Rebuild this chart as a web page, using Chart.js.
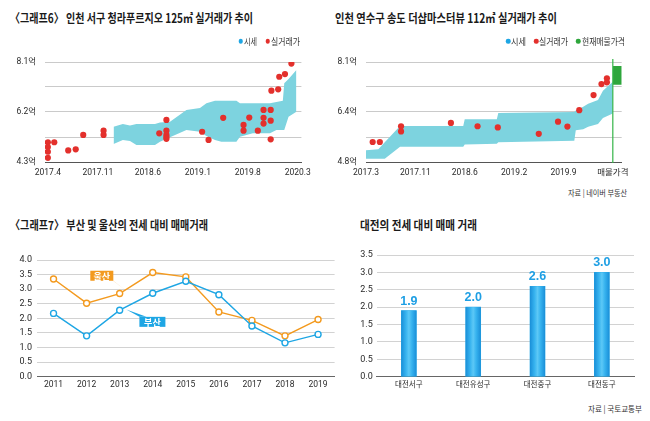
<!DOCTYPE html>
<html><head><meta charset="utf-8">
<script src="https://cdn.jsdelivr.net/npm/chart.js@4.4.1/dist/chart.umd.min.js"></script>
<style>
html,body{margin:0;padding:0;background:#fff;width:650px;height:421px;overflow:hidden;position:relative;font-family:"Noto Sans CJK KR",sans-serif;}
canvas{position:absolute;}
.t{position:absolute;white-space:nowrap;line-height:1;transform-origin:0 50%;color:#1a1a1a;}
.dot{position:absolute;border-radius:50%;width:4.5px;height:4.5px;transform:translate(-50%,-50%);}
</style></head><body>
<canvas id="c1" width="325" height="140" style="left:0;top:45px"></canvas>
<canvas id="c2" width="325" height="140" style="left:325px;top:45px"></canvas>
<canvas id="c3" width="340" height="160" style="left:0;top:240px"></canvas>
<canvas id="c4" width="310" height="160" style="left:340px;top:240px"></canvas>
<script>
// ---------- DATA ----------
// Chart 1: 인천 서구 청라푸르지오 125㎡ (x = months since 2017.4)
const x1Ticks = [0, 7, 14, 21, 28, 35];
const x1Labels = ['2017.4', '2017.11', '2018.6', '2019.1', '2019.8', '2020.3'];
const y1Ticks = [4.3, 5.25, 6.2, 7.15, 8.1];
const y1Labels = ['4.3억', '', '6.2억', '', '8.1억'];
const band1X = [9.2, 10.5, 11.5, 12.4, 15.0, 15.7, 17.1, 19.4, 21.3, 22.2, 23.4, 24.3, 26.4, 26.9, 28.7, 31.1, 32.0, 32.9, 33.1, 33.7, 34.8];
const band1Upper = [5.64, 5.74, 5.69, 5.74, 5.74, 5.80, 5.83, 6.28, 6.35, 6.53, 6.63, 6.63, 6.63, 6.53, 6.53, 6.53, 6.58, 6.63, 7.29, 7.45, 7.80];
const band1Lower = [4.98, 5.14, 5.10, 4.95, 4.95, 5.07, 5.24, 5.52, 5.45, 5.29, 5.14, 5.07, 5.07, 5.26, 5.39, 5.39, 5.52, 5.52, 5.52, 6.02, 6.21];
const deal1X = [0, 0, 0, 0, 0.9, 2.85, 3.9, 4.95, 7.8, 7.8, 15.6, 16.6, 16.6, 16.6, 16.6, 16.6, 21.6, 22.5, 24.55, 27.4, 27.4, 28.2, 29.4, 30.2, 30.2, 30.2, 31.2, 31.2, 31.2, 31.3, 32.25, 32.4, 33.2, 34.1];
const deal1Y = [5.05, 4.87, 4.69, 4.46, 5.05, 4.74, 4.78, 5.33, 5.49, 5.33, 5.39, 5.90, 5.49, 5.33, 5.25, 5.18, 5.45, 5.14, 5.98, 5.71, 5.49, 5.99, 5.49, 6.28, 5.98, 5.76, 6.28, 5.87, 5.16, 7.01, 7.06, 7.54, 7.64, 8.04];

// Chart 2: 인천 연수구 송도 더샵마스터뷰 112㎡ (x = label position)
const x2Ticks = [0, 1, 2, 3, 4, 5];
const x2Labels = ['2017.3', '2017.11', '2018.6', '2019.2', '2019.9', '매물가격'];
const y2Ticks = [4.8, 5.625, 6.45, 7.275, 8.1];
const y2Labels = ['4.8억', '', '6.4억', '', '8.1억'];
const band2X = [0, 0.25, 0.38, 0.69, 1.97, 2.0, 2.65, 2.68, 4.22, 4.25, 4.4, 4.5, 4.7, 4.8, 5.0];
const band2Upper = [5.19, 5.22, 5.45, 5.99, 5.99, 6.21, 6.21, 6.42, 6.45, 6.50, 6.62, 6.72, 6.85, 7.15, 7.45];
const band2Lower = [4.91, 4.91, 4.91, 5.30, 5.30, 5.38, 5.40, 5.45, 5.50, 5.85, 5.88, 5.96, 6.05, 6.25, 6.40];
const deal2X = [0.135, 0.28, 0.71, 0.71, 1.72, 2.26, 2.67, 3.50, 3.89, 4.08, 4.32, 4.61, 4.77, 4.88, 4.88];
const deal2Y = [5.46, 5.46, 5.98, 5.81, 6.09, 5.98, 5.94, 5.73, 6.13, 5.97, 6.51, 7.01, 7.37, 7.56, 7.43];
const cur2X = [5.0, 5.2];
const cur2Upper = [7.97, 7.97];
const cur2Lower = [7.35, 7.35];

// Chart 3: 부산 및 울산의 전세 대비 매매거래
const years3 = ['2011', '2012', '2013', '2014', '2015', '2016', '2017', '2018', '2019'];
const ulsan3 = [3.35, 2.52, 2.85, 3.57, 3.42, 2.22, 1.93, 1.40, 1.96];
const busan3 = [2.17, 1.40, 2.28, 2.86, 3.27, 2.81, 1.74, 1.16, 1.45];

// Chart 4: 대전의 전세 대비 매매 거래
const districts4 = ['대전서구', '대전유성구', '대전중구', '대전동구'];
const values4 = [1.9, 2.0, 2.6, 3.0];

// ---------- STYLE ----------
const BAND = '#7dd3df', RED = '#e3302c', GREEN = '#2ea63c';
const ORANGE = '#f39a1f', BLUE = '#1ea6e4';
const NARROW = "'Liberation Sans Narrow','Roboto',sans-serif";
const KR = "'Noto Sans CJK KR',sans-serif";
Chart.defaults.animation = false;
Chart.defaults.color = '#2a2a2a';

function pts(xs, ys) { return xs.map((x, i) => ({ x: x, y: ys[i] })); }
function bandSets(xs, lo, up, color, ord) {
  return [
    { data: pts(xs, lo), borderColor: 'transparent', borderWidth: 0, pointRadius: 0, fill: false, order: ord + 1, tension: 0 },
    { data: pts(xs, up), borderColor: 'transparent', borderWidth: 0, pointRadius: 0, fill: '-1', backgroundColor: color, order: ord, tension: 0 }
  ];
}
function dotSet(xs, ys) {
  return { data: pts(xs, ys), showLine: false, pointRadius: 3.1, pointHoverRadius: 3.1, backgroundColor: RED, borderWidth: 0, order: 0 };
}
function timeChartOpts(xmin, xmax, xt, xl, ymin, ymax, yt, yl, yw, padRight) {
  return {
    responsive: false, animation: false,
    layout: { padding: { top: 17, right: padRight, left: 0, bottom: 0 } },
    plugins: { legend: { display: false }, tooltip: { enabled: false } },
    scales: {
      x: {
        type: 'linear', min: xmin, max: xmax,
        grid: { display: false, drawTicks: false },
        border: { display: true, color: '#555', width: 1 },
        afterBuildTicks: s => { s.ticks = xt.map(v => ({ value: v })); },
        afterFit: s => { s.height = 23; },
        ticks: { callback: (v, i) => xl[i], font: { family: NARROW + ",'Noto Sans CJK KR'", size: 8.5 }, color: '#2a2a2a', padding: 6, maxRotation: 0, autoSkip: false }
      },
      y: {
        min: ymin, max: ymax,
        grid: { color: '#bdbdbd', lineWidth: 0.8, drawTicks: false },
        border: { display: false },
        afterBuildTicks: s => { s.ticks = yt.map(v => ({ value: v })); },
        afterFit: s => { s.width = yw; },
        ticks: { callback: (v, i) => yl[i], font: { family: NARROW + ",'Noto Sans CJK KR'", size: 8.5 }, color: '#2a2a2a', padding: 9, autoSkip: false }
      }
    }
  };
}

// Chart 1
new Chart(document.getElementById('c1'), {
  type: 'line',
  data: { datasets: [...bandSets(band1X, band1Lower, band1Upper, BAND, 1), dotSet(deal1X, deal1Y)] },
  options: timeChartOpts(-0.4, 35.5, x1Ticks, x1Labels, 4.3, 8.1, y1Ticks, y1Labels, 45, 23.6)
});

// Chart 2
const vLinePlugin = {
  id: 'vline',
  afterDatasetsDraw(chart) {
    const { ctx, scales: { x }, chartArea } = chart;
    const px = x.getPixelForValue(5);
    ctx.save(); ctx.strokeStyle = '#35b548'; ctx.lineWidth = 1.2;
    ctx.beginPath(); ctx.moveTo(px, chartArea.top - 3); ctx.lineTo(px, chartArea.bottom + 1); ctx.stroke(); ctx.restore();
  }
};
new Chart(document.getElementById('c2'), {
  type: 'line',
  data: { datasets: [...bandSets(band2X, band2Lower, band2Upper, BAND, 1), dotSet(deal2X, deal2Y), ...bandSets(cur2X, cur2Lower, cur2Upper, GREEN, 3)] },
  options: timeChartOpts(0, 5.18, x2Ticks, x2Labels, 4.8, 8.1, y2Ticks, y2Labels, 41, 28.3),
  plugins: [vLinePlugin]
});

// Chart 3
const calloutPlugin = {
  id: 'callouts',
  afterDatasetsDraw(chart, args, opts) {
    const { ctx, scales: { x, y } } = chart;
    opts.items.forEach(it => {
      const tx = x.getPixelForValue(it.tip[0]), ty = y.getPixelForValue(it.tip[1]);
      const bx = x.getPixelForValue(it.box[0]), by = y.getPixelForValue(it.box[1]);
      ctx.save();
      ctx.fillStyle = it.color; ctx.strokeStyle = it.color; ctx.lineWidth = 1;
      ctx.beginPath(); ctx.moveTo(it.base[0] + bx, it.base[1] + by); ctx.lineTo(it.base[2] + bx, it.base[3] + by); ctx.lineTo(tx, ty); ctx.closePath(); ctx.fill();
      ctx.fillRect(bx - it.w / 2, by - it.h / 2, it.w, it.h);
      ctx.fillStyle = '#fff'; ctx.font = "bold 9px 'Noto Sans CJK KR'"; ctx.textAlign = 'center'; ctx.textBaseline = 'middle';
      ctx.fillText(it.text, bx, by + 0.5);
      ctx.restore();
    });
  }
};
new Chart(document.getElementById('c3'), {
  type: 'line',
  data: {
    labels: years3,
    datasets: [
      { label: '부산', data: busan3, borderColor: BLUE, borderWidth: 1.4, pointRadius: 3, pointBorderWidth: 1.4, pointBackgroundColor: '#fff', pointBorderColor: BLUE, tension: 0 },
      { label: '울산', data: ulsan3, borderColor: ORANGE, borderWidth: 1.4, pointRadius: 3, pointBorderWidth: 1.4, pointBackgroundColor: '#fff', pointBorderColor: ORANGE, tension: 0 }
    ]
  },
  options: {
    responsive: false, animation: false,
    layout: { padding: { top: 20, right: 5, left: 0, bottom: 0 } },
    plugins: {
      legend: { display: false }, tooltip: { enabled: false },
      callouts: { items: [
        { text: '울산', color: ORANGE, tip: [2.14, 3.0], box: [1.46, 3.46], w: 23, h: 10, base: [6, 1, 11.5, 5] },
        { text: '부산', color: BLUE, tip: [2.2, 2.3], box: [2.99, 1.88], w: 26, h: 10, base: [-13, -5, -6, -5] }
      ] }
    },
    scales: {
      x: { offset: true, grid: { display: false, drawTicks: false }, border: { display: true, color: '#666', width: 1 },
        afterFit: s => { s.height = 23.3; },
        ticks: { font: { family: NARROW, size: 8.5 }, color: '#2a2a2a', padding: 3, maxRotation: 0 } },
      y: { min: 0, max: 4, grid: { color: '#c6c6c6', lineWidth: 0.8, drawTicks: false }, border: { display: false },
        afterFit: s => { s.width = 37; },
        ticks: { stepSize: 0.5, callback: v => v.toFixed(1), font: { family: NARROW, size: 9 }, color: '#2a2a2a', padding: 5 } }
    }
  },
  plugins: [calloutPlugin]
});

// Chart 4
const barPlugin = {
  id: 'barDeco',
  afterDatasetsDraw(chart) {
    const { ctx } = chart;
    const meta = chart.getDatasetMeta(0);
    meta.data.forEach((el, i) => {
      const w = el.width, l = el.x - w / 2;
      const g = ctx.createLinearGradient(l, 0, l + w, 0);
      g.addColorStop(0, '#1a8fd8'); g.addColorStop(0.3, '#37b3ef'); g.addColorStop(0.5, '#5cc8f6');
      g.addColorStop(0.7, '#37b3ef'); g.addColorStop(1, '#1a8fd8');
      ctx.save(); ctx.fillStyle = g; ctx.fillRect(l, el.y, w, el.base - el.y);
      ctx.fillStyle = '#1e9fe4'; ctx.font = "bold 12.5px 'Liberation Sans',Arial,sans-serif"; ctx.textAlign = 'center'; ctx.textBaseline = 'middle';
      ctx.fillText(values4[i].toFixed(1), el.x, el.y - 9.5);
      ctx.restore();
    });
  }
};
new Chart(document.getElementById('c4'), {
  type: 'bar',
  data: { labels: districts4, datasets: [{ data: values4, backgroundColor: '#29a9e6', barThickness: 15 }] },
  options: {
    responsive: false, animation: false,
    layout: { padding: { top: 15, right: 16, left: 0, bottom: 0 } },
    plugins: { legend: { display: false }, tooltip: { enabled: false } },
    scales: {
      x: { grid: { display: false, drawTicks: false }, border: { display: true, color: '#666', width: 1 },
        afterFit: s => { s.height = 23.3; },
        ticks: { font: { family: KR, size: 7.5 }, color: '#2a2a2a', padding: 3, maxRotation: 0 } },
      y: { min: 0, max: 3.5, grid: { color: '#c6c6c6', lineWidth: 0.8, drawTicks: false }, border: { display: false },
        afterFit: s => { s.width = 36.7; },
        ticks: { stepSize: 0.5, callback: v => v.toFixed(1), font: { family: NARROW, size: 9 }, color: '#2a2a2a', padding: 4 } }
    }
  },
  plugins: [barPlugin]
});

// ---------- TEXT (titles, legends, sources) ----------
function addText(txt, x, y, size, weight, width, color) {
  const d = document.createElement('div');
  d.className = 't'; d.textContent = txt;
  d.style.left = x + 'px'; d.style.top = y + 'px';
  d.style.fontSize = size + 'px'; d.style.fontWeight = weight;
  if (color) d.style.color = color;
  document.body.appendChild(d);
  const w = d.getBoundingClientRect().width;
  const sx = width ? width / w : 1;
  d.style.transform = 'translateY(-50%) scaleX(' + sx + ')';
}
function addDot(x, y, color) {
  const d = document.createElement('div');
  d.className = 'dot'; d.style.left = x + 'px'; d.style.top = y + 'px'; d.style.background = color;
  document.body.appendChild(d);
}
addText('〈그래프6〉 인천 서구 청라푸르지오 125㎡ 실거래가 추이', 10, 17.5, 12.5, 700, 243);
addText('인천 연수구 송도 더샵마스터뷰 112㎡ 실거래가 추이', 335, 17.5, 12.5, 700, 222);
addText('〈그래프7〉 부산 및 울산의 전세 대비 매매거래', 10, 224.5, 12, 700, 198);
addText('대전의 전세 대비 매매 거래', 360, 224.5, 12, 700, 117);

addDot(240.7, 41, BLUE); addText('시세', 243.5, 41, 9, 400, 13, '#333');
addDot(267.7, 41, RED); addText('실거래가', 271, 41, 9, 400, 29, '#333');
addDot(508.3, 41, BLUE); addText('시세', 511, 41, 9, 400, 15, '#333');
addDot(536, 41, RED); addText('실거래가', 539, 41, 9, 400, 29, '#333');
addDot(578.3, 41, GREEN); addText('현재매물가격', 582, 41, 9, 400, 43, '#333');

addText('자료 | 네이버 부동산', 568, 192.5, 8, 400, 59, '#333');
addText('자료 | 국토교통부', 588, 408.5, 8, 400, 54, '#333');
</script>
</body></html>
